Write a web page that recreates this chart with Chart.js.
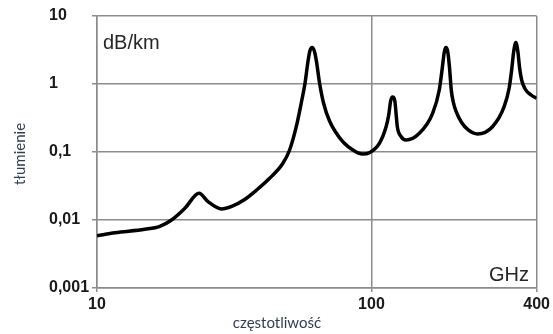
<!DOCTYPE html>
<html>
<head>
<meta charset="utf-8">
<script src="https://cdn.jsdelivr.net/npm/chart.js@4/dist/chart.umd.min.js"></script>
<style>
  html, body { margin: 0; padding: 0; background: #ffffff; }
  #wrap { width: 553px; height: 334px; }
</style>
</head>
<body>
<div id="wrap"><canvas id="c" width="553" height="334"></canvas></div>
<script>
// Frequency (GHz) and attenuation (dB/km)
const freqGHz = [10, 11.63, 14.94, 16.94, 18.69, 20.89, 23.55, 25.39, 28.41, 30.97,
  34.51, 38.18, 42.56, 47.59, 50.33, 53.23, 55.5, 57.3, 58.68, 59.66,
  60.77, 61.94, 63.1, 64.7, 66.9, 70.37, 78.64, 86.74, 92.74, 98.33,
  106.9, 113.1, 115.6, 117.5, 119.5, 121.7, 123.1, 124.3, 128.2, 133.7,
  149.5, 167.1, 176.7, 181.2, 184.3, 186.9, 189.8, 192.6, 195.4, 198.7,
  203.8, 212.5, 225.3, 243.5, 276.1, 304.5, 317.6, 324.3, 329.8, 335.9,
  341.8, 346.7, 352.6, 363.1, 381.8, 400];
const attenuation = [0.00588, 0.0065, 0.0073, 0.00807, 0.0100, 0.01486, 0.0247, 0.0186, 0.0145, 0.0158,
  0.0200, 0.0276, 0.0410, 0.0682, 0.107, 0.2355, 0.526, 1.034, 2.106, 3.058,
  3.44, 3.058, 2.106, 1.034, 0.526, 0.2856, 0.1417, 0.1035, 0.0935, 0.0977,
  0.1343, 0.2355, 0.35, 0.5623, 0.644, 0.5623, 0.35, 0.2331, 0.169, 0.150,
  0.1884, 0.3708, 0.816, 1.719, 2.955, 3.44, 2.955, 1.719, 0.816, 0.5437,
  0.3876, 0.2762, 0.2107, 0.184, 0.2355, 0.4637, 0.873, 1.607, 2.955, 4.08,
  2.955, 1.719, 1.145, 0.844, 0.689, 0.616];

const xTickValues = [10, 100, 400];
const xTickLabels = ['10', '100', '400'];
const yTickValues = [0.001, 0.01, 0.1, 1, 10];
const yTickLabels = ['0,001', '0,01', '0,1', '1', '10'];

const unitY = 'dB/km';
const unitX = 'GHz';
const titleY = 'tłumienie';
const titleX = 'częstotliwość';

const points = freqGHz.map((f, i) => ({ x: f, y: attenuation[i] }));

const gridColor = '#8c8c8c';
const tickFont = { family: "'Liberation Sans', Arial, sans-serif", size: 16, weight: 'bold' };

const textPlugin = {
  id: 'texts',
  afterDraw(chart) {
    const ctx = chart.ctx;
    ctx.save();
    ctx.fillStyle = '#262626';
    ctx.font = "20px 'Liberation Sans', Arial, sans-serif";
    ctx.textBaseline = 'middle';
    ctx.textAlign = 'left';
    ctx.fillText(unitY, 103, 43);
    ctx.textAlign = 'right';
    ctx.fillText(unitX, 529, 275);

    ctx.fillStyle = '#2f3d55';
    ctx.font = "15px Lato, 'Open Sans', sans-serif";
    ctx.textAlign = 'center';
    ctx.fillText(titleX, 277, 323);
    ctx.translate(20, 154);
    ctx.rotate(-Math.PI / 2);
    ctx.fillText(titleY, 0, 0);
    ctx.restore();
  }
};

new Chart(document.getElementById('c'), {
  type: 'line',
  data: {
    datasets: [{
      data: points,
      borderColor: '#000000',
      borderWidth: 3.5,
      pointRadius: 0,
      fill: false,
      cubicInterpolationMode: 'monotone'
    }]
  },
  options: {
    responsive: false,
    animation: false,
    devicePixelRatio: 1,
    layout: { padding: { left: 49, right: 14, top: 16, bottom: 0 } },
    plugins: { legend: { display: false }, tooltip: { enabled: false } },
    scales: {
      x: {
        type: 'logarithmic',
        min: 10, max: 400,
        afterBuildTicks: s => { s.ticks = xTickValues.map(v => ({ value: v })); },
        afterFit: s => { s.height = 46; },
        ticks: {
          autoSkip: false, maxRotation: 0, padding: 3,
          font: tickFont, color: '#1a1a1a',
          callback: (v, i) => xTickLabels[i]
        },
        grid: { color: gridColor, lineWidth: 1.5, tickLength: 4 },
        border: { color: gridColor, width: 1.5 }
      },
      y: {
        type: 'logarithmic',
        position: 'left',
        min: 0.001, max: 10,
        afterBuildTicks: s => { s.ticks = yTickValues.map(v => ({ value: v })); },
        afterFit: s => { s.width = 48; },
        ticks: {
          autoSkip: false, crossAlign: 'far', padding: 4,
          font: tickFont, color: '#1a1a1a',
          callback: (v, i) => yTickLabels[i]
        },
        grid: { color: gridColor, lineWidth: 1.5, tickLength: 5 },
        border: { color: gridColor, width: 1.5 }
      }
    }
  },
  plugins: [textPlugin]
});
</script>
</body>
</html>
